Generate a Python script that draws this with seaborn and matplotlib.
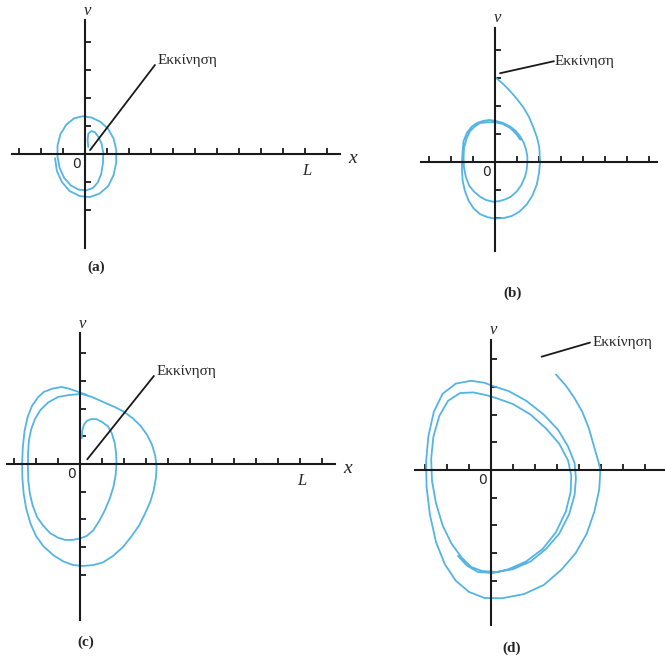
import numpy as np
import pandas as pd
import matplotlib
matplotlib.use("Agg")
import matplotlib.pyplot as plt
import seaborn as sns

# Phase-plane trajectories (x, v) in tick units, one list per panel
a_x = [0.15, 0.12, 0.15, 0.28, 0.45, 0.6, 0.75, 0.83, 0.82, 0.74, 0.58, 0.35, 0.05, -0.3, -0.65,
       -0.95, -1.15, -1.25, -1.25, -1.12, -0.85, -0.5, -0.1, 0.3, 0.7, 1.05, 1.3, 1.42, 1.42, 1.3,
       1.05, 0.65, 0.2, -0.25, -0.7, -1.05, -1.28, -1.36]
a_v = [0.25, 0.5, 0.72, 0.82, 0.78, 0.62, 0.38, 0.05, -0.3, -0.7, -1.02, -1.22, -1.3, -1.27, -1.12,
       -0.85, -0.5, -0.1, 0.3, 0.7, 1.05, 1.27, 1.35, 1.3, 1.15, 0.9, 0.55, 0.15, -0.3, -0.75,
       -1.15, -1.42, -1.54, -1.5, -1.32, -1.0, -0.6, -0.15]

b_x = [0.05, 0.35, 0.68, 1.0, 1.29, 1.55, 1.74, 1.9, 2.01, 2.05, 2.0, 1.9, 1.7, 1.44, 1.1, 0.76,
       0.4, 0.0, -0.35, -0.68, -0.98, -1.2, -1.37, -1.47, -1.5, -1.5, -1.47, -1.43, -1.27, -1.05,
       -0.8, -0.53, -0.25, 0.0, 0.35, 0.68, 0.93, 1.14, 1.3, 1.41, 1.47, 1.47, 1.44, 1.36, 1.2,
       0.98, 0.72, 0.45, 0.18, -0.08, -0.4, -0.68, -0.95, -1.17, -1.32, -1.41, -1.43, -1.41, -1.3,
       -1.14, -0.9, -0.68, -0.35, 0.0, 0.35, 0.68, 0.95, 1.15]
b_v = [3.0, 2.8, 2.54, 2.25, 1.95, 1.6, 1.24, 0.9, 0.54, 0.0, -0.4, -0.8, -1.2, -1.52, -1.78, -1.93,
       -2.0, -2.02, -1.97, -1.86, -1.65, -1.38, -1.03, -0.67, -0.3, 0.04, 0.4, 0.75, 1.05, 1.27,
       1.4, 1.47, 1.5, 1.47, 1.4, 1.27, 1.12, 0.92, 0.7, 0.45, 0.2, 0.0, -0.28, -0.53, -0.82,
       -1.06, -1.24, -1.34, -1.4, -1.42, -1.36, -1.24, -1.06, -0.85, -0.55, -0.2, 0.15, 0.5, 0.82,
       1.1, 1.28, 1.39, 1.42, 1.42, 1.36, 1.22, 1.02, 0.8]

c_x = [0.08, 0.1, 0.18, 0.32, 0.5, 0.75, 1.0, 1.27, 1.45, 1.58, 1.64, 1.66, 1.62, 1.52, 1.35, 1.13,
       0.88, 0.6, 0.3, 0.0, -0.35, -0.68, -1.0, -1.35, -1.68, -1.95, -2.15, -2.28, -2.35, -2.37,
       -2.36, -2.32, -2.22, -2.05, -1.8, -1.45, -1.0, -0.5, 0.07, 0.55, 1.1, 1.6, 1.97, 2.4, 2.75,
       3.05, 3.27, 3.42, 3.48, 3.45, 3.35, 3.2, 2.95, 2.7, 2.35, 1.95, 1.5, 1.05, 0.6, 0.15, -0.3,
       -0.75, -1.2, -1.65, -2.0, -2.25, -2.45, -2.56, -2.62, -2.63, -2.6, -2.52, -2.38, -2.18,
       -1.92, -1.65, -1.25, -0.85, -0.5, -0.2, 0.07, 0.3]
c_v = [0.93, 1.2, 1.42, 1.56, 1.62, 1.62, 1.52, 1.36, 1.1, 0.75, 0.4, 0.03, -0.4, -0.82, -1.25,
       -1.67, -2.05, -2.4, -2.6, -2.69, -2.74, -2.74, -2.66, -2.5, -2.22, -1.92, -1.5, -1.07, -0.6,
       -0.1, 0.4, 0.87, 1.25, 1.62, 1.95, 2.22, 2.42, 2.49, 2.53, 2.42, 2.22, 2.05, 1.9, 1.65, 1.38,
       1.05, 0.7, 0.3, -0.1, -0.5, -0.95, -1.35, -1.8, -2.2, -2.6, -3.0, -3.32, -3.55, -3.65, -3.68,
       -3.65, -3.52, -3.3, -2.98, -2.6, -2.15, -1.6, -1.07, -0.5, 0.03, 0.6, 1.2, 1.7, 2.1, 2.4,
       2.6, 2.72, 2.78, 2.72, 2.64, 2.56, 2.5]

d_x = [2.95, 3.4, 3.79, 4.15, 4.45, 4.7, 4.9, 4.97, 4.92, 4.7, 4.35, 3.85, 3.2, 2.4, 1.5, 0.5,
       -0.3, -1.0, -1.6, -2.1, -2.5, -2.78, -2.93, -2.95, -2.85, -2.6, -2.2, -1.6, -0.9, -0.3, 0.1,
       0.8, 1.6, 2.4, 3.05, 3.5, 3.8, 3.86, 3.8, 3.55, 3.1, 2.5, 1.8, 1.0, 0.3, -0.4, -0.9, -1.35,
       -1.8, -2.2, -2.5, -2.68, -2.72, -2.62, -2.35, -1.95, -1.4, -0.8, -0.2, 0.3, 1.0, 1.8, 2.5,
       3.1, 3.5, 3.65, 3.62, 3.4, 2.95, 2.35, 1.6, 0.8, 0.1, -0.6, -1.1, -1.5]
d_v = [3.45, 3.05, 2.6, 2.1, 1.5, 0.8, 0.25, 0.0, -0.7, -1.5, -2.3, -3.0, -3.6, -4.15, -4.48, -4.63,
       -4.62, -4.4, -4.0, -3.4, -2.6, -1.6, -0.6, 0.3, 1.2, 2.1, 2.75, 3.12, 3.22, 3.15, 3.03,
       2.85, 2.5, 2.0, 1.45, 0.85, 0.25, -0.3, -0.9, -1.6, -2.3, -2.85, -3.3, -3.58, -3.68, -3.65,
       -3.5, -3.15, -2.65, -2.0, -1.2, -0.4, 0.4, 1.2, 1.95, 2.5, 2.78, 2.8, 2.7, 2.58, 2.38, 2.0,
       1.5, 0.95, 0.35, -0.2, -0.8, -1.5, -2.25, -2.85, -3.3, -3.58, -3.72, -3.68, -3.45, -3.1]

# Tick positions along each axis
a_xticks = [-3, -2, -1] + list(range(1, 12))
a_vticks = [-2, -1, 1, 2, 3, 4]
b_xticks = [-3, -2, -1] + list(range(1, 8))
b_vticks = [-2, -1, 1, 2, 3, 4]
c_xticks = [-3, -2, -1] + list(range(1, 12))
c_vticks = [-4, -3, -2, -1, 1, 2, 3, 4]
d_xticks = [-3, -2, -1] + list(range(1, 8))
d_vticks = [-4, -3, -2, -1, 1, 2, 3, 4]

start_label = "Εκκίνηση"
captions = ["(a)", "(b)", "(c)", "(d)"]

BLUE = "#55b4e4"
INK = "#1a1a1a"
W = H = 665

sns.set_style("white")
plt.rcParams["font.family"] = ["Liberation Serif", "DejaVu Serif"]

fig = plt.figure(figsize=(W / 100, H / 100), dpi=100)
fig.patch.set_facecolor("white")


def make_axes(origin, xlim, ylim, xu, yu):
    ox, oy = origin
    left = (ox + xlim[0] * xu) / W
    width = (xlim[1] - xlim[0]) * xu / W
    bottom = 1 - (oy - ylim[0] * yu) / H
    height = (ylim[1] - ylim[0]) * yu / H
    ax = fig.add_axes([left, bottom, width, height])
    ax.patch.set_alpha(0)
    return ax


def style_axes(ax, xlim, ylim, xticks, vticks):
    ax.set_xlim(*xlim)
    ax.set_ylim(*ylim)
    for s in ["top", "right"]:
        ax.spines[s].set_visible(False)
    ax.spines["left"].set_position(("data", 0))
    ax.spines["bottom"].set_position(("data", 0))
    for s in ["left", "bottom"]:
        ax.spines[s].set_linewidth(1.5)
        ax.spines[s].set_color(INK)
    ax.set_xticks(xticks)
    ax.set_yticks(vticks)
    ax.set_xticklabels([])
    ax.set_yticklabels([])
    ax.tick_params(axis="both", which="major", bottom=True, left=True,
                   top=False, right=False, direction="in", length=4.5,
                   width=1.3, color=INK, labelbottom=False, labelleft=False)
    ax.set_xlabel("")
    ax.set_ylabel("")


def draw_panel(ax, xs, vs, xlim, ylim, xticks, vticks, cap, cap_xy, lbl_xy, leader, show_L):
    df = pd.DataFrame({"x": xs, "v": vs})
    sns.lineplot(data=df, x="x", y="v", sort=False, estimator=None, ax=ax,
                 color=BLUE, lw=1.3)
    style_axes(ax, xlim, ylim, xticks, vticks)
    ax.text(0.1, ylim[1] + 0.05, "v", style="italic", fontsize=12,
            ha="center", va="bottom", clip_on=False)
    ax.text(-0.4, -0.35, "0", family="DejaVu Sans", fontsize=10,
            ha="center", va="center")
    if show_L:
        ax.text(10.1, -0.62, "L", style="italic", fontsize=12, ha="center", va="center")
        ax.text(xlim[1] + 0.55, -0.15, "x", style="italic", fontsize=14,
                ha="center", va="center", clip_on=False)
    ax.plot([leader[0][0], leader[1][0]], [leader[0][1], leader[1][1]],
            color=INK, lw=1.3, clip_on=False)
    ax.text(lbl_xy[0], lbl_xy[1], start_label, fontsize=11, ha="left", va="center",
            clip_on=False)
    ax.text(cap_xy[0], cap_xy[1], cap, fontsize=11, fontweight="bold",
            ha="center", va="center", clip_on=False)


lim_a = ((-3.33, 11.6), (-3.35, 4.78))
ax_a = make_axes((85, 154), *lim_a, 22, 28)
draw_panel(ax_a, a_x, a_v, *lim_a, a_xticks, a_vticks, captions[0], (0.5, -4.05),
           (3.3, 3.35), ((3.18, 3.18), (0.23, 0.14)), True)

lim_b = ((-3.38, 7.37), (-3.19, 4.79))
ax_b = make_axes((495, 162), *lim_b, 22, 28)
draw_panel(ax_b, b_x, b_v, *lim_b, b_xticks, b_vticks, captions[1], (0.8, -4.7),
           (2.7, 3.6), ((2.68, 3.6), (0.23, 3.17)), False)

lim_c = ((-3.33, 11.6), (-5.63, 4.72))
ax_c = make_axes((80, 464), *lim_c, 22, 27.7)
draw_panel(ax_c, c_x, c_v, *lim_c, c_xticks, c_vticks, captions[2], (0.25, -6.45),
           (3.5, 3.35), ((3.36, 3.18), (0.33, 0.17)), True)

lim_d = ((-3.45, 7.95), (-5.6, 4.7))
ax_d = make_axes((491, 470), *lim_d, 22, 27.7)
draw_panel(ax_d, d_x, d_v, *lim_d, d_xticks, d_vticks, captions[3], (0.95, -6.45),
           (4.6, 4.6), ((2.3, 4.09), (4.5, 4.6)), False)

fig.savefig("out.png", dpi=100, facecolor="white")
